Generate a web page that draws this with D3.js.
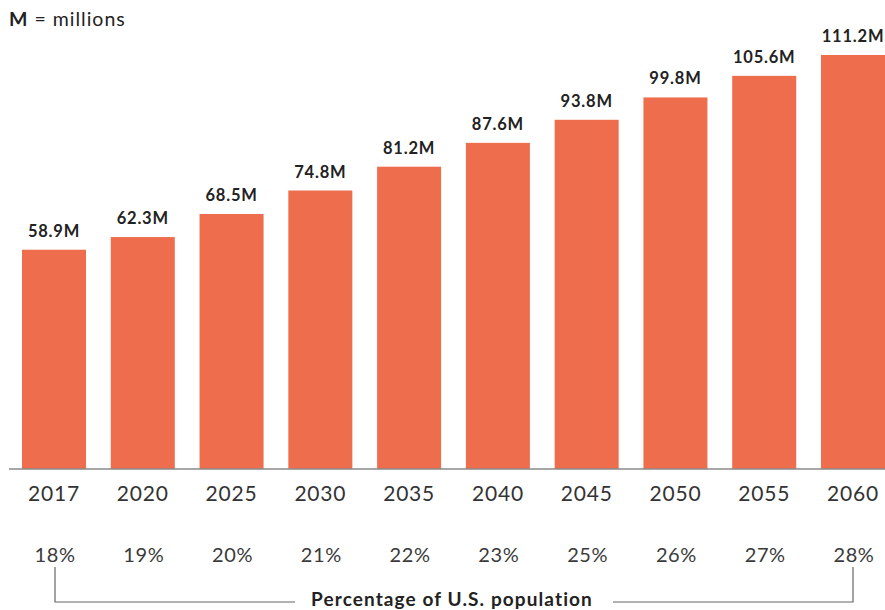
<!DOCTYPE html>
<html>
<head>
<meta charset="utf-8">
<script src="https://cdn.jsdelivr.net/npm/d3@7"></script>
<style>
  html, body { margin: 0; padding: 0; background: #fff; }
  svg { display: block; font-family: Lato, "Open Sans", sans-serif; }
</style>
</head>
<body>
<svg id="chart" width="885" height="610"></svg>
<script>
const years = ["2017", "2020", "2025", "2030", "2035", "2040", "2045", "2050", "2055", "2060"];
const values = [58.9, 62.3, 68.5, 74.8, 81.2, 87.6, 93.8, 99.8, 105.6, 111.2];
const valueLabels = ["58.9M", "62.3M", "68.5M", "74.8M", "81.2M", "87.6M", "93.8M", "99.8M", "105.6M", "111.2M"];
const percents = ["18%", "19%", "20%", "21%", "22%", "23%", "25%", "26%", "27%", "28%"];
const noteText = "M = millions";
const bracketText = "Percentage of U.S. population";

const svg = d3.select("#chart");
const baseY = 469;

const x = d3.scaleBand().domain(years).range([22, 885]).paddingInner(0.279).paddingOuter(0);
const y = d3.scaleLinear().domain([0, 111.2]).range([baseY, 55]);

// note
const note = svg.append("text").attr("x", 9).attr("y", 26)
  .attr("font-size", 19.5).attr("fill", "#222").attr("letter-spacing", 1.0);
note.append("tspan").attr("font-weight", 700).text("M");
note.append("tspan").attr("font-weight", 400).text(noteText.slice(1));

// bars
svg.append("g").selectAll("rect").data(years).join("rect")
  .attr("x", d => x(d))
  .attr("width", x.bandwidth())
  .attr("y", (d, i) => y(values[i]))
  .attr("height", (d, i) => baseY - y(values[i]))
  .attr("fill", "#ee6d4c");

// value labels
svg.append("g").selectAll("text").data(years).join("text")
  .attr("x", d => x(d) + x.bandwidth() / 2)
  .attr("y", (d, i) => y(values[i]) - 13)
  .attr("text-anchor", "middle")
  .attr("font-size", 16.5).attr("font-weight", 700).attr("fill", "#222")
  .attr("letter-spacing", 0.8)
  .text((d, i) => valueLabels[i]);

// axis
const xAxis = d3.axisBottom(x).tickSize(0).tickPadding(0);
const ax = svg.append("g").attr("transform", `translate(0,${baseY})`).call(xAxis);
ax.select(".domain").remove();
ax.selectAll(".tick text")
  .attr("y", 32).attr("dy", 0)
  .attr("font-family", "Lato, sans-serif")
  .attr("font-size", 21).attr("fill", "#333").attr("letter-spacing", 0.8);
svg.append("line").attr("x1", 9).attr("x2", 885).attr("y1", baseY).attr("y2", baseY)
  .attr("stroke", "#8a8a8a").attr("stroke-width", 1.3);

// percentages
svg.append("g").selectAll("text").data(years).join("text")
  .attr("x", d => x(d) + x.bandwidth() / 2 + 1)
  .attr("y", 562)
  .attr("text-anchor", "middle")
  .attr("font-size", 20).attr("fill", "#3a3a3a").attr("letter-spacing", 0.6)
  .text((d, i) => percents[i]);

// bracket
const xl = x(years[0]) + x.bandwidth() / 2 + 1;
const xr = x(years[years.length - 1]) + x.bandwidth() / 2;
const by = 602, ty = 567;
const g = svg.append("g").attr("stroke", "#666").attr("stroke-width", 1.2).attr("fill", "none");
g.append("path").attr("d", `M${xl},${ty}V${by}H295`);
g.append("path").attr("d", `M613,${by}H${xr}V${ty}`);
svg.append("text").attr("x", 452).attr("y", 606).attr("text-anchor", "middle")
  .attr("font-size", 19).attr("font-weight", 700).attr("fill", "#222").attr("letter-spacing", 1.1)
  .text(bracketText);
</script>
</body>
</html>
